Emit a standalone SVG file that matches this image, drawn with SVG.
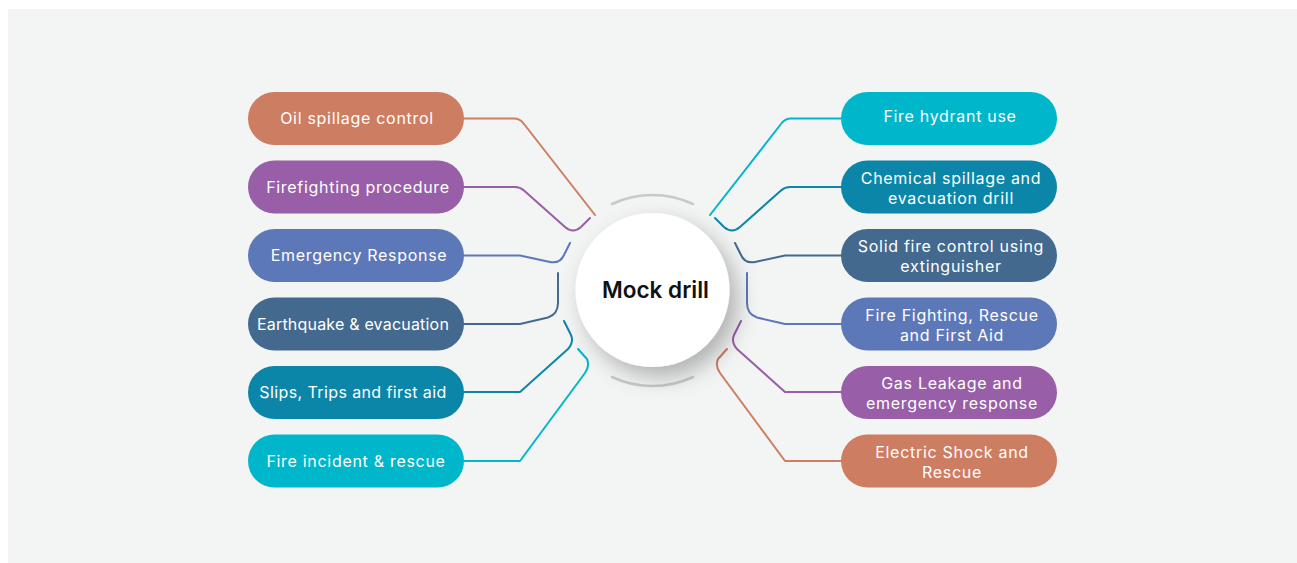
<svg xmlns="http://www.w3.org/2000/svg" width="1297" height="563" viewBox="0 0 1297 563">
<defs>
<filter id="sh" x="-50%" y="-50%" width="200%" height="200%">
<feDropShadow dx="8" dy="10" stdDeviation="11" flood-color="#000" flood-opacity="0.28"/>
</filter>
<style>
.pill text{font-family:Inter,"Open Sans","Liberation Sans",sans-serif;font-size:16px;letter-spacing:0.7px;fill:#fff;text-anchor:middle}
.c{fill:none;stroke-width:2;stroke-linecap:round;stroke-linejoin:round}
.or{fill:#cd7d61}.pu{fill:#985ea8}.bl{fill:#5d78b8}.sl{fill:#436a8e}.te{fill:#0b86a8}.cy{fill:#00b6cb}
.sor{stroke:#cd7d61}.spu{stroke:#985ea8}.sbl{stroke:#5d78b8}.ssl{stroke:#436a8e}.ste{stroke:#0b86a8}.scy{stroke:#00b6cb}
.arc{fill:none;stroke:#c9c9c9;stroke-width:2.5;stroke-linecap:round}
</style>
</defs>
<rect x="0" y="0" width="1297" height="563" fill="#fff"/>
<rect x="8" y="9" width="1289" height="554" fill="#f3f4f4"/>

<g id="connectors">
<g id="left-connectors">
<path class="c sor" d="M464,118.5 H514 Q520,118.5 524,124 L595,215"/>
<path class="c spu" d="M464,187 H515 Q520,187 524,190.5 L565,227 Q573,234 581,227 L590,218"/>
<path class="c sbl" d="M464,255.5 H520 L550,262 Q560,264 564,255 L570,243"/>
<path class="c ssl" d="M464,324 H520 L548,317.5 Q558,314 558,303 V273"/>
<path class="c ste" d="M464,392 H520 L568,349 Q574,342 571,335 L564,321"/>
<path class="c scy" d="M464,461 H520 L585,373 Q590,366 587,359 L578,349"/>
</g>
<g id="right-connectors" transform="translate(1305,0) scale(-1,1)">
<path class="c scy" d="M464,118.5 H514 Q520,118.5 524,124 L595,215"/>
<path class="c ste" d="M464,187 H515 Q520,187 524,190.5 L565,227 Q573,234 581,227 L590,218"/>
<path class="c ssl" d="M464,255.5 H520 L550,262 Q560,264 564,255 L570,243"/>
<path class="c sbl" d="M464,324 H520 L548,317.5 Q558,314 558,303 V273"/>
<path class="c spu" d="M464,392 H520 L568,349 Q574,342 571,335 L564,321"/>
<path class="c sor" d="M464,461 H520 L585,373 Q590,366 587,359 L578,349"/>
</g>
</g>

<g id="center">
<path class="arc" d="M612,204 A95,95 0 0 1 693,204"/>
<path class="arc" d="M612,377 A95,95 0 0 0 693,377"/>
<circle cx="652.5" cy="290" r="77" fill="#fff" filter="url(#sh)"/>
<text x="655.5" y="298" font-family="Inter,'Open Sans','Liberation Sans',sans-serif" font-size="22.5" font-weight="600" fill="#111" text-anchor="middle">Mock drill</text>
</g>

<g id="n-oil" class="pill"><rect class="or" x="248" y="92" width="216" height="53" rx="26.5"/><text x="357" y="124">Oil spillage control</text></g>
<g id="n-firefighting" class="pill"><rect class="pu" x="248" y="160.5" width="216" height="53" rx="26.5"/><text x="358" y="192.5">Firefighting procedure</text></g>
<g id="n-emergency" class="pill"><rect class="bl" x="248" y="229" width="216" height="53" rx="26.5"/><text x="359" y="261">Emergency Response</text></g>
<g id="n-earthquake" class="pill"><rect class="sl" x="248" y="297.5" width="216" height="53" rx="26.5"/><text x="353" y="329.5" style="letter-spacing:0.2px">Earthquake &amp; evacuation</text></g>
<g id="n-slips" class="pill"><rect class="te" x="248" y="366" width="216" height="53" rx="26.5"/><text x="353" y="398" style="letter-spacing:0.4px">Slips, Trips and first aid</text></g>
<g id="n-fireincident" class="pill"><rect class="cy" x="248" y="434.5" width="216" height="53" rx="26.5"/><text x="356" y="466.5">Fire incident &amp; rescue</text></g>

<g id="n-hydrant" class="pill"><rect class="cy" x="841" y="92" width="216" height="53" rx="26.5"/><text x="950" y="122">Fire hydrant use</text></g>
<g id="n-chemical" class="pill"><rect class="te" x="841" y="160.5" width="216" height="53" rx="26.5"/><text x="951" y="183.5">Chemical spillage and<tspan x="951" dy="20">evacuation drill</tspan></text></g>
<g id="n-solid" class="pill"><rect class="sl" x="841" y="229" width="216" height="53" rx="26.5"/><text x="951" y="252">Solid fire control using<tspan x="951" dy="20">extinguisher</tspan></text></g>
<g id="n-firefighting2" class="pill"><rect class="bl" x="841" y="297.5" width="216" height="53" rx="26.5"/><text x="952" y="320.5">Fire Fighting, Rescue<tspan x="952" dy="20">and First Aid</tspan></text></g>
<g id="n-gas" class="pill"><rect class="pu" x="841" y="366" width="216" height="53" rx="26.5"/><text x="952" y="389">Gas Leakage and<tspan x="952" dy="20">emergency response</tspan></text></g>
<g id="n-electric" class="pill"><rect class="or" x="841" y="434.5" width="216" height="53" rx="26.5"/><text x="952" y="457.5">Electric Shock and<tspan x="952" dy="20">Rescue</tspan></text></g>
</svg>
